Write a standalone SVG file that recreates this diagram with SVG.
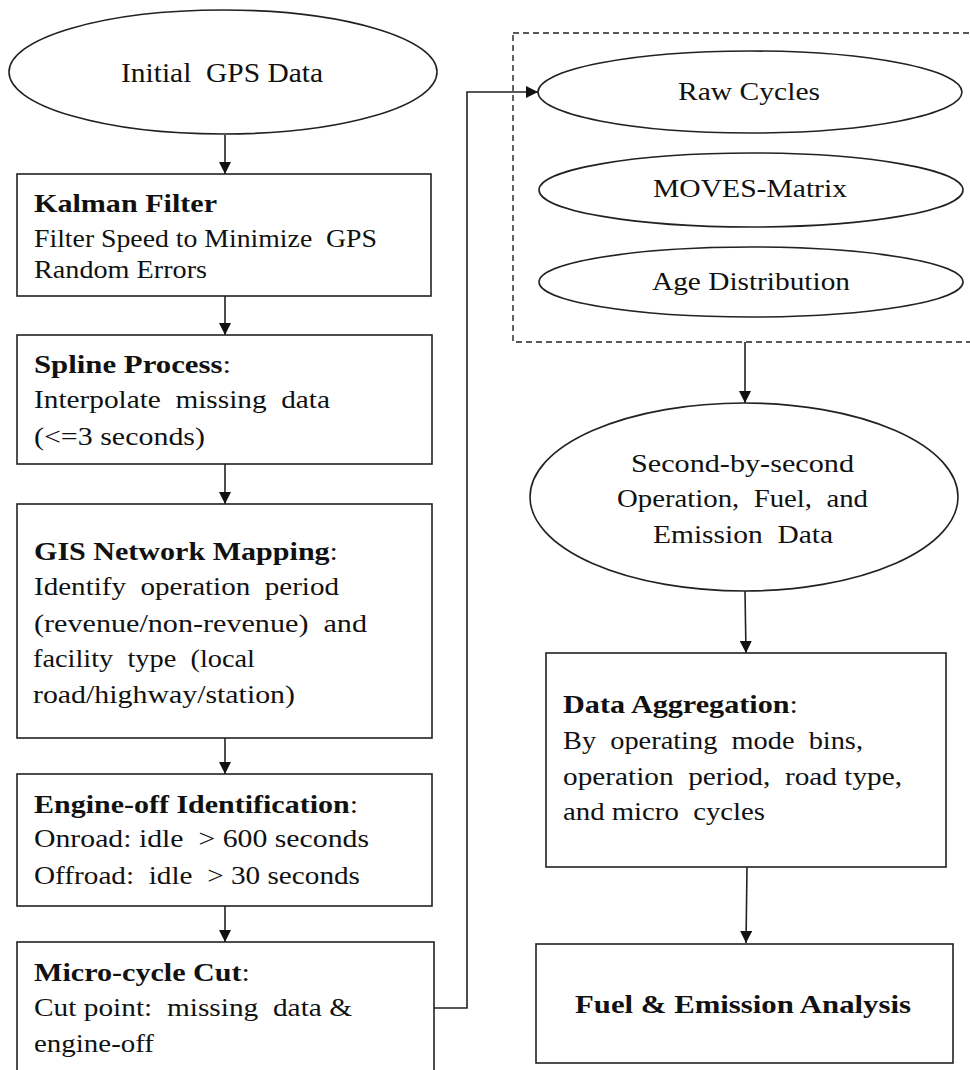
<svg xmlns="http://www.w3.org/2000/svg" width="970" height="1070" viewBox="0 0 970 1070">
  <style>
    .shape { fill: #ffffff; stroke: #222222; stroke-width: 1.6; }
    .dash { fill: none; stroke: #222222; stroke-width: 1.4; stroke-dasharray: 6 4; }
    .conn { fill: none; stroke: #222222; stroke-width: 1.6; }
    text { font-family: "Liberation Serif", "Times New Roman", serif; font-size: 25px; fill: #111111; }
    .e { font-size: 26px; }
    .c { text-anchor: middle; }
    .b { font-weight: bold; }
  </style>
  <defs>
    <marker id="arrow" viewBox="0 0 12 12" refX="12" refY="6" markerWidth="12" markerHeight="12" markerUnits="userSpaceOnUse" orient="auto">
      <path d="M0,0 L12,6 L0,12 Z" fill="#111111"/>
    </marker>
  </defs>

  <rect width="970" height="1070" fill="#ffffff"/>

  <!-- connectors -->
  <g id="connectors">
    <line class="conn" x1="225" y1="135" x2="225" y2="174" marker-end="url(#arrow)"/>
    <line class="conn" x1="225" y1="296" x2="225" y2="335" marker-end="url(#arrow)"/>
    <line class="conn" x1="225" y1="464" x2="225" y2="504" marker-end="url(#arrow)"/>
    <line class="conn" x1="225" y1="738" x2="225" y2="774" marker-end="url(#arrow)"/>
    <line class="conn" x1="225" y1="906" x2="225" y2="942" marker-end="url(#arrow)"/>
    <polyline class="conn" points="434,1008 467,1008 467,92 538,92" marker-end="url(#arrow)"/>
    <line class="conn" x1="745" y1="342" x2="745" y2="403" marker-end="url(#arrow)"/>
    <line class="conn" x1="745" y1="591" x2="746" y2="653" marker-end="url(#arrow)"/>
    <line class="conn" x1="747" y1="867" x2="746" y2="943" marker-end="url(#arrow)"/>
  </g>

  <!-- input data group frame -->
  <rect id="input-frame" class="dash" x="513" y="33" width="470" height="309"/>

  <g id="initial-gps">
    <ellipse class="shape" cx="223" cy="72" rx="214" ry="62"/>
    <text x="121" y="82" style="font-size:28px" textLength="202" lengthAdjust="spacingAndGlyphs" xml:space="preserve">Initial  GPS Data</text>
  </g>

  <g id="kalman-filter">
    <rect class="shape" x="17" y="174" width="414" height="122"/>
    <text class="b" x="34" y="212" textLength="183" lengthAdjust="spacingAndGlyphs">Kalman Filter</text>
    <text x="34" y="247" textLength="343" lengthAdjust="spacingAndGlyphs" xml:space="preserve">Filter Speed to Minimize  GPS</text>
    <text x="34" y="278" textLength="173" lengthAdjust="spacingAndGlyphs">Random Errors</text>
  </g>

  <g id="spline-process">
    <rect class="shape" x="17" y="335" width="415" height="129"/>
    <text x="34" y="373" textLength="197" lengthAdjust="spacingAndGlyphs"><tspan class="b">Spline Process</tspan>:</text>
    <text x="34" y="408" textLength="296" lengthAdjust="spacingAndGlyphs" xml:space="preserve">Interpolate  missing  data</text>
    <text x="34" y="445" textLength="171" lengthAdjust="spacingAndGlyphs">(&lt;=3 seconds)</text>
  </g>

  <g id="gis-mapping">
    <rect class="shape" x="17" y="504" width="415" height="234"/>
    <text x="34" y="560" textLength="304" lengthAdjust="spacingAndGlyphs"><tspan class="b">GIS Network Mapping</tspan>:</text>
    <text x="34" y="595" textLength="305" lengthAdjust="spacingAndGlyphs" xml:space="preserve">Identify  operation  period</text>
    <text x="34" y="632" textLength="333" lengthAdjust="spacingAndGlyphs" xml:space="preserve">(revenue/non-revenue)  and</text>
    <text x="33" y="667" textLength="222" lengthAdjust="spacingAndGlyphs" xml:space="preserve">facility  type  (local</text>
    <text x="33" y="703" textLength="262" lengthAdjust="spacingAndGlyphs">road/highway/station)</text>
  </g>

  <g id="engine-off">
    <rect class="shape" x="17" y="774" width="415" height="132"/>
    <text x="34" y="813" textLength="324" lengthAdjust="spacingAndGlyphs"><tspan class="b">Engine-off Identification</tspan>:</text>
    <text x="34" y="847" textLength="335" lengthAdjust="spacingAndGlyphs" xml:space="preserve">Onroad: idle  &gt; 600 seconds</text>
    <text x="34" y="884" textLength="326" lengthAdjust="spacingAndGlyphs" xml:space="preserve">Offroad:  idle  &gt; 30 seconds</text>
  </g>

  <g id="micro-cycle-cut">
    <rect class="shape" x="17" y="942" width="417" height="140"/>
    <text x="34" y="981" textLength="216" lengthAdjust="spacingAndGlyphs"><tspan class="b">Micro-cycle Cut</tspan>:</text>
    <text x="34" y="1016" textLength="318" lengthAdjust="spacingAndGlyphs" xml:space="preserve">Cut point:  missing  data &amp;</text>
    <text x="34" y="1052" textLength="120" lengthAdjust="spacingAndGlyphs">engine-off</text>
  </g>

  <g id="raw-cycles">
    <ellipse class="shape" cx="750" cy="92" rx="212" ry="41"/>
    <text class="e" x="678" y="100" textLength="142" lengthAdjust="spacingAndGlyphs">Raw Cycles</text>
  </g>

  <g id="moves-matrix">
    <ellipse class="shape" cx="751" cy="190" rx="212" ry="37"/>
    <text class="e" x="653" y="197" textLength="194" lengthAdjust="spacingAndGlyphs">MOVES-Matrix</text>
  </g>

  <g id="age-distribution">
    <ellipse class="shape" cx="751" cy="282" rx="212" ry="35"/>
    <text class="e" x="652" y="290" textLength="198" lengthAdjust="spacingAndGlyphs">Age Distribution</text>
  </g>

  <g id="second-by-second">
    <ellipse class="shape" cx="744" cy="497" rx="214" ry="94"/>
    <text class="e" x="631" y="472" textLength="223" lengthAdjust="spacingAndGlyphs">Second-by-second</text>
    <text class="e" x="617" y="507" textLength="251" lengthAdjust="spacingAndGlyphs" xml:space="preserve">Operation,  Fuel,  and</text>
    <text class="e" x="653" y="543" textLength="180" lengthAdjust="spacingAndGlyphs" xml:space="preserve">Emission  Data</text>
  </g>

  <g id="data-aggregation">
    <rect class="shape" x="546" y="653" width="400" height="214"/>
    <text x="563" y="713" textLength="235" lengthAdjust="spacingAndGlyphs"><tspan class="b">Data Aggregation</tspan>:</text>
    <text x="563" y="749" textLength="300" lengthAdjust="spacingAndGlyphs" xml:space="preserve">By  operating  mode  bins,</text>
    <text x="563" y="785" textLength="339" lengthAdjust="spacingAndGlyphs" xml:space="preserve">operation  period,  road type,</text>
    <text x="563" y="820" textLength="202" lengthAdjust="spacingAndGlyphs" xml:space="preserve">and micro  cycles</text>
  </g>

  <g id="fuel-emission-analysis">
    <rect class="shape" x="536" y="944" width="417" height="119"/>
    <text class="b" x="575" y="1013" textLength="336" lengthAdjust="spacingAndGlyphs">Fuel &amp; Emission Analysis</text>
  </g>
</svg>
